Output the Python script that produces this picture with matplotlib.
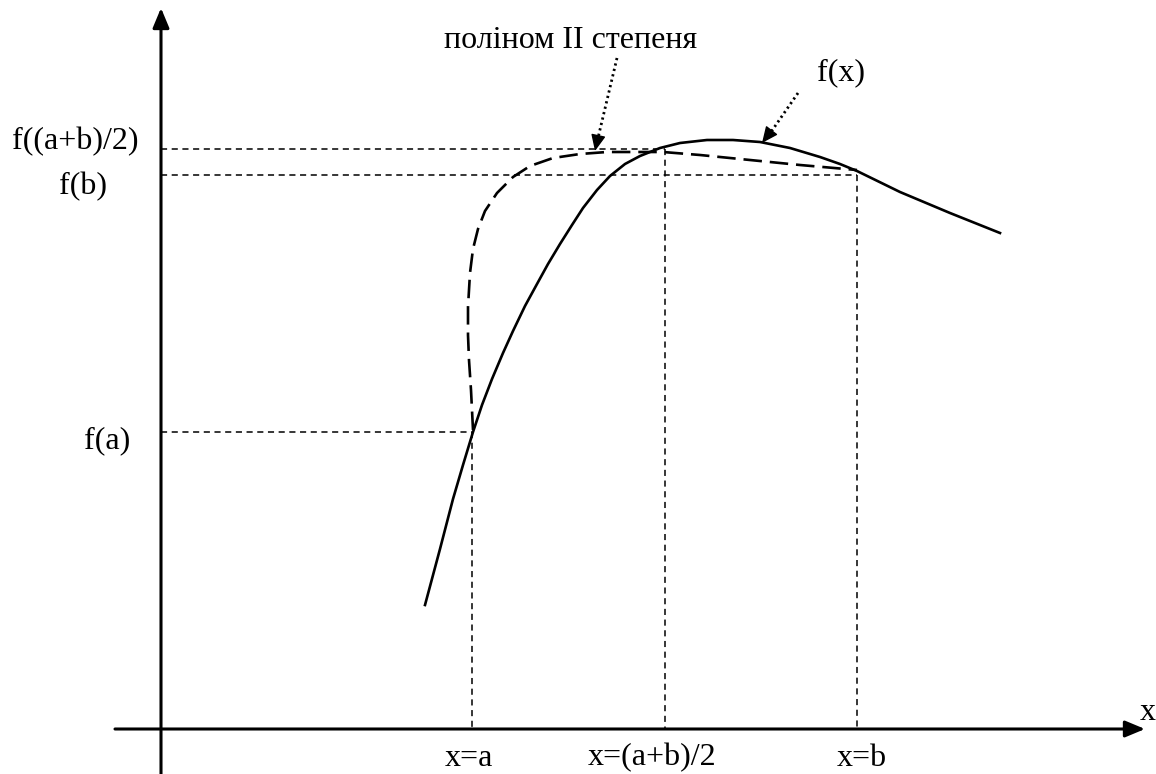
import matplotlib.pyplot as plt

# coordinates (pixel units, y grows downwards)
fx_x = [425, 440, 453, 463, 473, 482, 492, 503, 513, 525, 537, 548, 560, 572, 583,
        597, 610, 625, 640, 660, 680, 707, 733, 760, 790, 820, 840, 857, 900, 950, 1000]
fx_y = [605, 549, 499, 465, 432, 405, 379, 353, 331, 306, 284, 264, 244, 225, 208,
        190, 176, 164, 156, 148, 143, 140, 140, 142, 148, 157, 164, 171, 192, 213, 233]

poly_x = [473, 471, 469, 468, 468, 469, 470, 473, 478, 485, 497, 513, 530, 553, 580,
          607, 635, 663, 700, 750, 800, 857]
poly_y = [430, 390, 360, 335, 307, 290, 273, 249, 229, 211, 193, 177, 166, 158, 154,
          152, 152, 152, 155, 160, 165, 170]

x_a, x_mid, x_b = 472, 665, 857
y_a, y_mid, y_b = 432, 149, 175
x_axis_y = 729
y_axis_x = 161

labels_y = ["f((a+b)/2)", "f(b)", "f(a)"]
labels_x = ["x=a", "x=(a+b)/2", "x=b"]

plt.rcParams['font.family'] = ['Liberation Serif', 'DejaVu Serif']

fig = plt.figure(figsize=(11.56, 7.74), dpi=100)
ax = fig.add_axes([0, 0, 1, 1])
ax.set_xlim(0, 1156)
ax.set_ylim(774, 0)
ax.axis('off')

# axes with arrows
axis_arrow = dict(arrowstyle="-|>,head_length=1.2,head_width=0.5", lw=2.2, color="black",
                  shrinkA=0, shrinkB=0)
ax.annotate("", xy=(1145, x_axis_y), xytext=(115, x_axis_y), arrowprops=axis_arrow)
ax.annotate("", xy=(y_axis_x, 8), xytext=(y_axis_x, 774), arrowprops=axis_arrow)

# guide lines
g = dict(color="black", lw=1.1, ls=(0, (4, 3)))
ax.plot([y_axis_x, x_mid], [y_mid, y_mid], **g)
ax.plot([y_axis_x, x_b], [y_b, y_b], **g)
ax.plot([y_axis_x, x_a + 2], [y_a, y_a], **g)
ax.plot([x_a, x_a], [y_a, x_axis_y], **g)
ax.plot([x_mid, x_mid], [y_mid, x_axis_y], **g)
ax.plot([x_b, x_b], [y_b, x_axis_y], **g)

# curves
ax.plot(fx_x, fx_y, color="black", lw=1.9, solid_joinstyle="round")
ax.plot(poly_x, poly_y, color="black", lw=1.9, ls=(0, (7, 3)), dash_joinstyle="round")

# pointers: dotted shaft + solid head
fs = 23
dot = dict(color="black", lw=2.0, ls=(0, (0.8, 1.2)))
head = dict(arrowstyle="-|>,head_length=1.0,head_width=0.45", lw=1, color="black",
            shrinkA=0, shrinkB=0, mutation_scale=10)
ax.plot([617, 598], [58, 138], **dot)
ax.annotate("", xy=(595, 151), xytext=(598, 137), arrowprops=head)
ax.plot([798, 771], [93, 132], **dot)
ax.annotate("", xy=(762, 143), xytext=(772, 130), arrowprops=head)

ax.text(571, 40, "поліном ІІ степеня", fontsize=fs, ha="center", va="center")
ax.text(841, 73, "f(x)", fontsize=fs, ha="center", va="center")

ax.text(75, 142, labels_y[0], fontsize=fs, ha="center", va="center")
ax.text(83, 187, labels_y[1], fontsize=fs, ha="center", va="center")
ax.text(107, 441, labels_y[2], fontsize=fs, ha="center", va="center")

ax.text(469, 758, labels_x[0], fontsize=fs, ha="center", va="center")
ax.text(652, 758, labels_x[1], fontsize=fs, ha="center", va="center")
ax.text(862, 758, labels_x[2], fontsize=fs, ha="center", va="center")
ax.text(1148, 712, "x", fontsize=fs, ha="center", va="center")

fig.savefig("out.png", dpi=100)
